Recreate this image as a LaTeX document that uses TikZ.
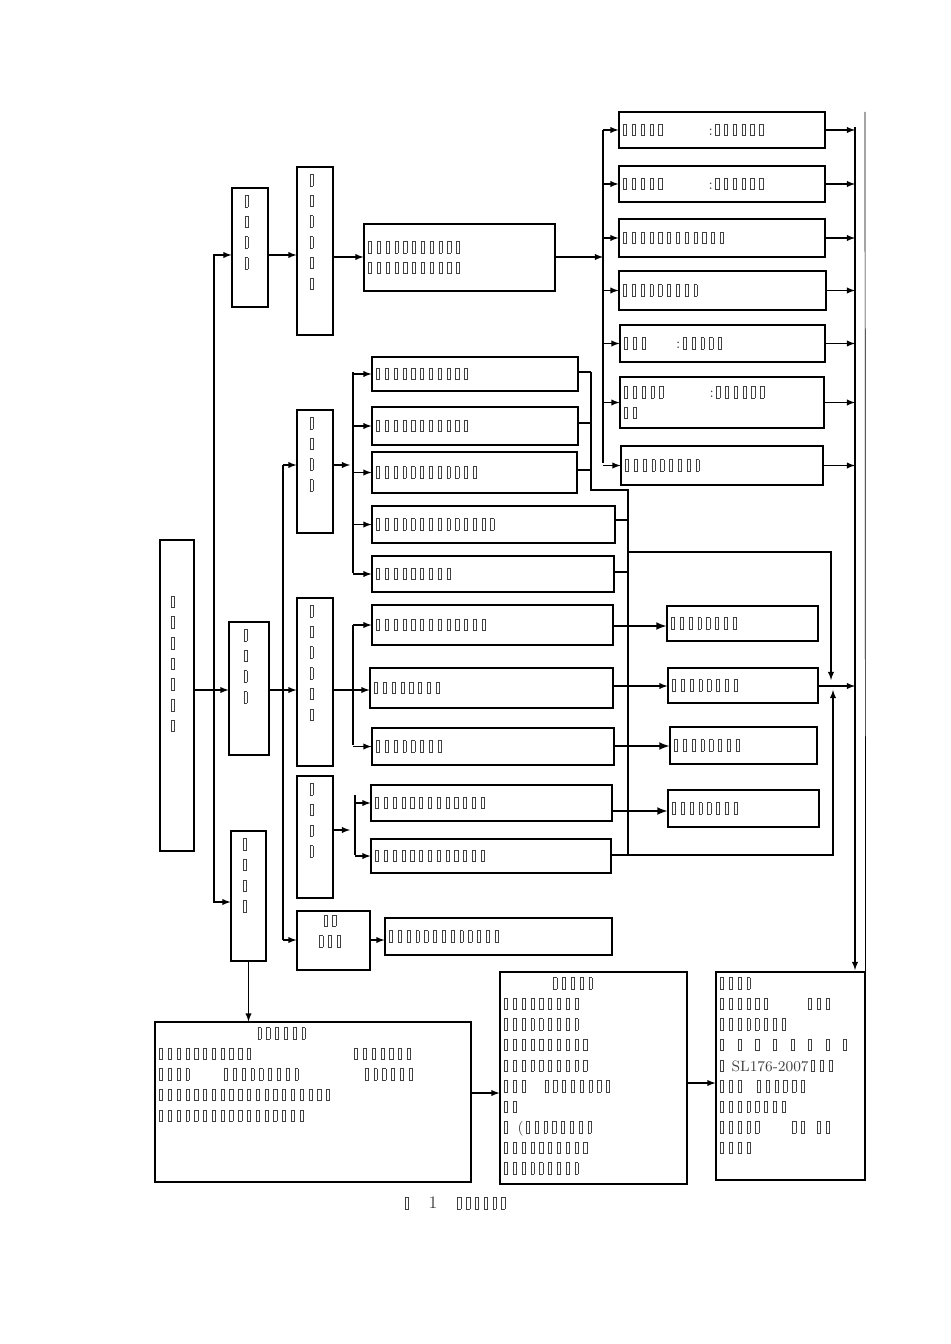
\documentclass[tikz,border=0pt]{standalone}
\usetikzlibrary{fit}
\setlength{\fboxsep}{0pt}
\setlength{\fboxrule}{0.35pt}
\newcommand{\tb}{\kern1.4pt\framebox[2.2pt]{\rule{0pt}{6.2pt}}\kern1.4pt}
\newcount\tfc
\newcommand{\tf}[1]{\tfc=0 \loop\tb\advance\tfc 1 \ifnum\tfc<#1\repeat}
\newcommand{\gap}[1]{\hspace*{#1pt}}
% box with text at the left middle
\newcommand{\bx}[6]{\node[box,fit={(#2,#3) (#4,#5)}] (#1) {};
    \node[txt,anchor=west] at ([xshift=1pt]#1.west) {#6};}
% box with text from the top left
\newcommand{\bxt}[6]{\node[box,fit={(#2,#3) (#4,#5)}] (#1) {};
    \node[txt,anchor=north west] at ([xshift=1pt,yshift=-3pt]#1.north west) {#6};}
% box with vertical text
\newcommand{\bxv}[6]{\node[box,fit={(#2,#3) (#4,#5)}] (#1) {};
    \node[vtxt,anchor=north] at ([xshift=-2pt,yshift=-4pt]#1.north) {#6};}
\begin{document}
\begin{tikzpicture}[x=0.02cm,y=-0.02cm,line width=0.6pt,
    box/.style={draw,inner sep=0pt},
    txt/.style={align=left,inner sep=0pt,font=\fontsize{8.5}{11.7}\selectfont,text=black!75},
    vtxt/.style={align=center,inner sep=0pt,font=\fontsize{8.5}{11.8}\selectfont,text=black!75},
    arr/.style={-latex}]
    \useasboundingbox (0,0) rectangle (950,1344);

    % Root and main branches
    \node[box,fit={(160,540) (194,851)}] (Root) {};
    \node[vtxt,anchor=north] at (173,595) {\tb\\\tb\\\tb\\\tb\\\tb\\\tb\\\tb};
    \bxv{BrA}{232}{188}{268}{307}{\tb\\\tb\\\tb\\\tb}
    \bxv{BrB}{229}{622}{269}{755}{\tb\\\tb\\\tb\\\tb}
    \bxv{BrC}{231}{831}{266}{961}{\tb\\\tb\\\tb\\\tb}

    % Branch A
    \bxv{A2}{297}{167}{333}{335}{\tb\\\tb\\\tb\\\tb\\\tb\\\tb}
    \bx{A3}{364}{224}{555}{291}{\tf{11}\\\tf{11}}

    % Right column
    \bx{R1}{619}{112}{825}{148}{\tf{5}\gap{25}:\tf{6}}
    \bx{R2}{619}{166}{825}{202}{\tf{5}\gap{25}:\tf{6}}
    \bx{R3}{619}{219}{825}{257}{\tf{12}}
    \bx{R4}{619}{271}{826}{310}{\tf{9}}
    \bx{R5}{620}{325}{825}{362}{\tf{3}\gap{16}:\tf{5}}
    \bx{R6}{620}{377}{824}{428}{\tf{5}\gap{25}:\tf{6}\\\tf{2}}
    \bx{R7}{621}{446}{823}{485}{\tf{9}}

    % Branch B
    \bxv{B1}{297}{410}{333}{533}{\tb\\\tb\\\tb\\\tb}
    \bx{B1a}{372}{357}{578}{391}{\tf{11}}
    \bx{B1b}{372}{407}{578}{445}{\tf{11}}
    \bx{B1c}{372}{452}{577}{493}{\tf{12}}
    \bx{B1d}{372}{506}{615}{543}{\tf{14}}
    \bx{B1e}{372}{556}{614}{592}{\tf{9}}
    \bxv{B2}{297}{598}{333}{766}{\tb\\\tb\\\tb\\\tb\\\tb\\\tb}
    \bx{B2a}{372}{605}{613}{645}{\tf{13}}
    \bx{B2b}{370}{668}{613}{708}{\tf{8}}
    \bx{B2c}{372}{728}{614}{765}{\tf{8}}
    \bxv{B3}{297}{776}{333}{898}{\tb\\\tb\\\tb\\\tb}
    \bx{B3a}{371}{785}{612}{821}{\tf{13}}
    \bx{B3b}{371}{839}{611}{873}{\tf{13}}
    \node[box,fit={(297,911) (370,970)}] (B4) {};
    \node[vtxt] at (330,931) {\tf{2}\\\tf{3}};
    \bx{B4a}{385}{918}{612}{955}{\tf{13}}
    \bx{C2a}{667}{606}{818}{641}{\tf{8}}
    \bx{C2b}{668}{668}{818}{703}{\tf{8}}
    \bx{C2c}{670}{727}{817}{764}{\tf{8}}
    \bx{C3a}{668}{790}{819}{827}{\tf{8}}

    % Bottom row
    \bxt{D1}{155}{1022}{471}{1182}{\gap{56}\tf{6}\\\tf{11}\gap{56}\tf{7}\\\tf{4}\gap{17}\tf{9}\gap{35}\tf{6}\\\tf{20}\\\tf{17}}
    \bxt{D2}{500}{972}{687}{1184}{\gap{28}\tf{5}\\\tf{9}\\\tf{9}\\\tf{10}\\\tf{10}\\\tf{3}\gap{8}\tf{8}\\\tf{2}\\\tf{1}\gap{4}(\tf{8}\\\tf{10}\\\tf{9}}
    \bxt{D3}{716}{972}{865}{1180}{\tf{4}\\\tf{6}\gap{20}\tf{3}\\\tf{8}\\\tb\gap{5}\tb\gap{5}\tb\gap{5}\tb\gap{5}\tb\gap{5}\tb\gap{5}\tb\gap{5}\tb\\\tb{} SL176-2007\tf{3}\\\tf{3}\gap{6}\tf{6}\\\tf{8}\\\tf{5}\gap{16}\tf{2}\gap{4}\tf{2}\\\tf{4}}
    \node[txt,font=\fontsize{10}{12}\selectfont] (Cap) at (455,1203) {\tb\gap{10}1\gap{10}\tf{6}};

    % Root connections
    \coordinate (RJ) at (214,690);
    \draw (Root.east |- RJ) -- (RJ);
    \draw[arr] (RJ) -- (BrB.west |- RJ);
    \draw[arr] (RJ) -- (214,255) -- (BrA.west |- 0,255);
    \draw[arr] (RJ) -- (214,902) -- (BrC.west |- 0,902);

    % Branch A connections
    \draw[arr] (BrA.east |- 0,255) -- (A2.west |- 0,255);
    \draw[arr] (A2.east |- 0,257) -- (A3.west |- 0,257);
    \draw[arr] (A3.east |- 0,257) -- (603,257);
    \draw (603,130) -- (603,463);
    \foreach \n in {R1,R2,R3,R4,R5,R6,R7}{
        \draw[arr] (603,0 |- \n.west) -- (\n.west);
        \draw[arr] (\n.east) -- (855,0 |- \n.east);
    }
    \draw[arr] (855,127) -- (855,970);
    \draw[line width=0.4pt] (865,112) -- (D3.north east);

    % Branch B connections
    \draw[line width=1pt] (283,465) -- (283,940);
    \draw[arr] (BrB.east |- RJ) -- (B2.west |- RJ);
    \draw[arr] (283,465) -- (B1.west |- 0,465);
    \draw[arr] (283,940) -- (B4.west |- 0,940);
    \draw[arr] (B1.east |- 0,465) -- (350,465);
    \draw (353,372) -- (353,573);
    \foreach \n in {B1a,B1b,B1c,B1d,B1e}
        \draw[arr] (353,0 |- \n.west) -- (\n.west);
    \draw[arr] (B2.east |- RJ) -- (B2b.west |- RJ);
    \draw (353,625) -- (353,745);
    \foreach \n in {B2a,B2c}
        \draw[arr] (353,0 |- \n.west) -- (\n.west);
    \draw[arr] (B3.east |- 0,830) -- (350,830);
    \draw (355,795) -- (355,855);
    \foreach \n in {B3a,B3b}
        \draw[arr] (355,0 |- \n.west) -- (\n.west);
    \draw[arr] (B4.east |- 0,940) -- (B4a.west |- 0,940);
    \draw[arr,line width=1pt] (B2a.east |- 0,626) -- (C2a.west |- 0,626);
    \draw[arr] (B2b.east |- 0,686) -- (C2b.west |- 0,686);
    \draw[arr,line width=1pt] (B2c.east |- 0,746) -- (C2c.west |- 0,746);
    \draw[arr,line width=1pt] (B3a.east |- 0,811) -- (C3a.west |- 0,811);

    % Feedback lines
    \draw[line width=1pt] (B1a.east |- 0,372) -- (591,372);
    \draw[line width=1pt] (B1c.east |- 0,470) -- (591,470);
    \draw (B1b.east |- 0,423) -- (591,423);
    \draw (591,372) -- (591,490) -- (628,490) -- (628,855);
    \draw (B1d.east |- 0,520) -- (628,520);
    \draw (B1e.east |- 0,572) -- (628,572);
    \draw[arr] (628,552) -- (831,552) -- (831,680);
    \draw[arr] (B3b.east |- 0,855) -- (833,855) -- (833,690);
    \draw[arr] (C2b.east |- 0,686) -- (855,686);

    % Bottom connections
    \draw[arr] (BrC.south) -- (BrC.south |- D1.north);
    \draw[arr] (D1.east |- 0,1093) -- (D2.west |- 0,1093);
    \draw[arr] (D2.east |- 0,1083) -- (D3.west |- 0,1083);
\end{tikzpicture}
\end{document}
